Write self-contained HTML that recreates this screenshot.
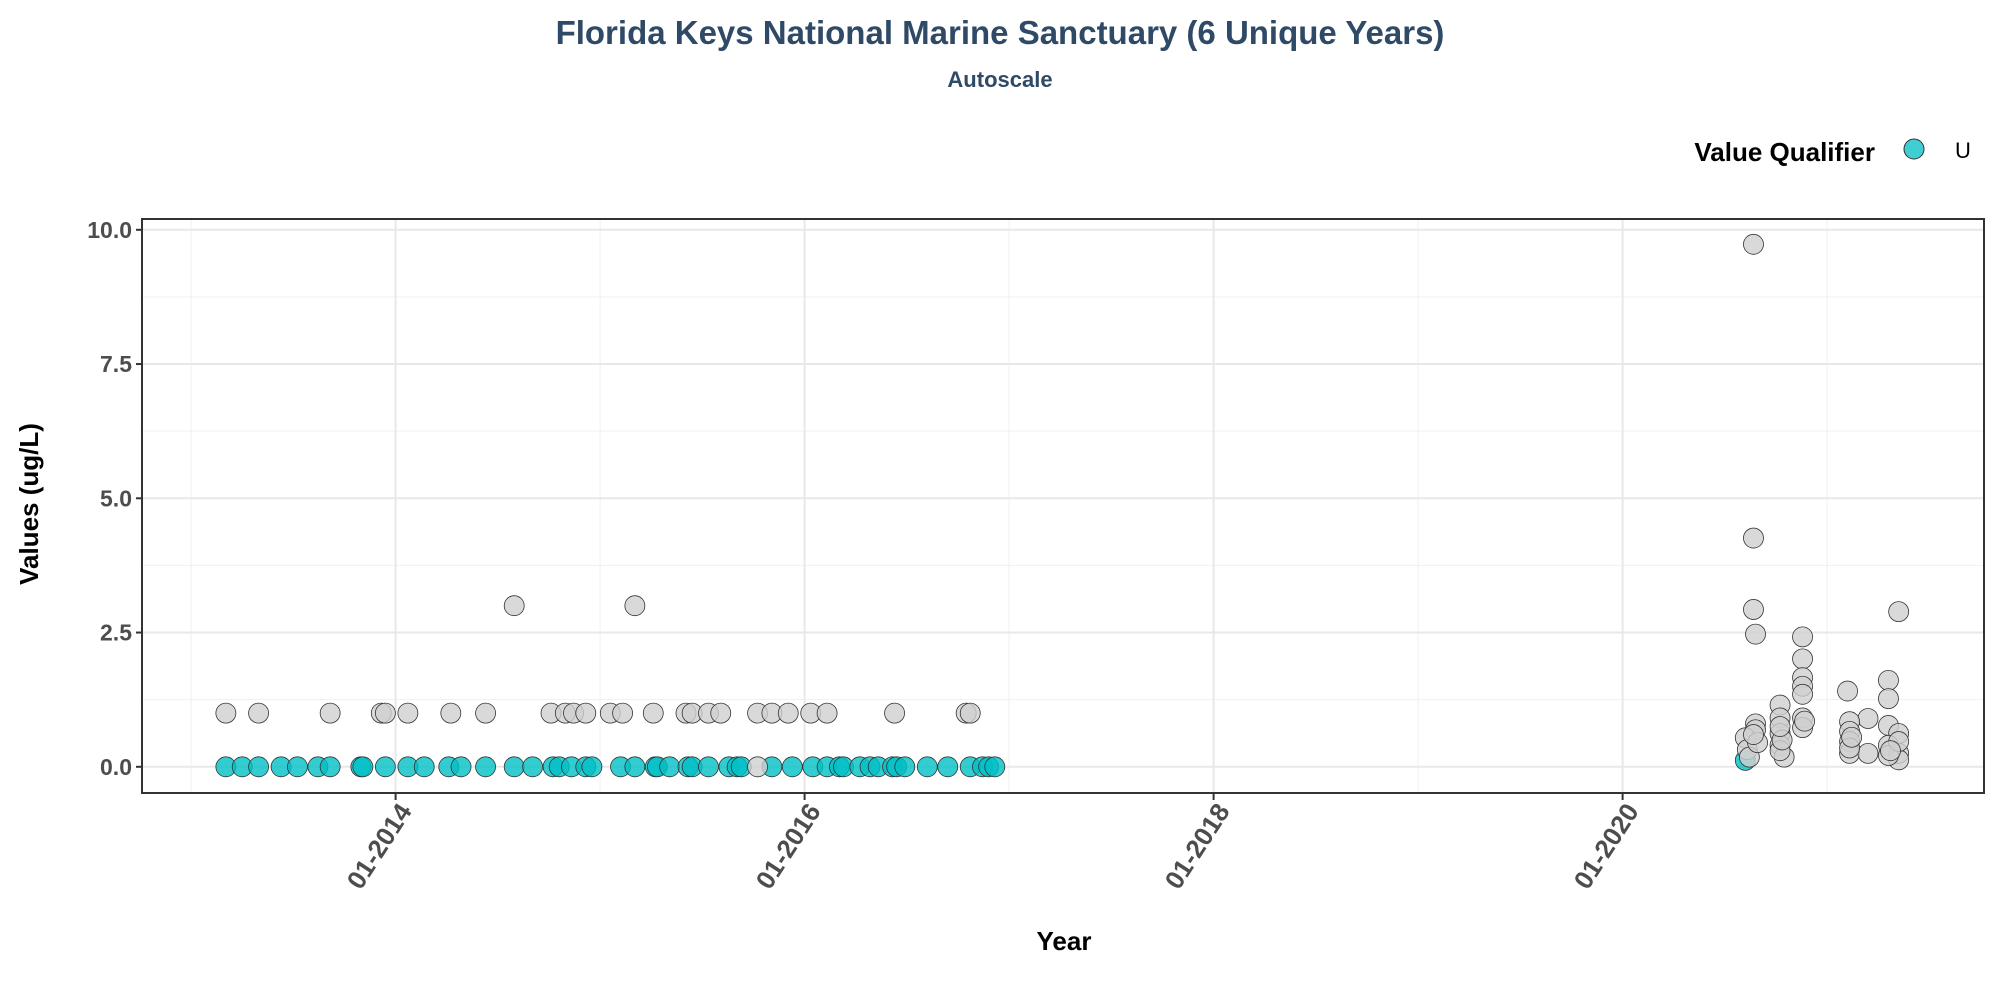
<!DOCTYPE html>
<html><head><meta charset="utf-8"><style>
body{margin:0;background:#fff;}
svg text{font-family:"Liberation Sans",sans-serif;}
</style></head><body>
<svg id="chart" width="2000" height="1000" xmlns="http://www.w3.org/2000/svg">
<text x="1000" y="44" text-anchor="middle" font-size="33" font-weight="bold" fill="#2e4a66">Florida Keys National Marine Sanctuary (6 Unique Years)</text>
<text x="1000" y="87" text-anchor="middle" font-size="22" font-weight="bold" fill="#2e4a66">Autoscale</text>
<g>
<text x="1875" y="161" text-anchor="end" font-size="26" font-weight="bold" fill="#000">Value Qualifier</text>
<circle cx="1914" cy="149" r="10" fill="#3fcfd2" stroke="#333" stroke-width="1"/>
<text x="1955" y="158" font-size="22" fill="#000">U</text>
</g>
<g id="plot"></g>
<text x="1064" y="950" text-anchor="middle" font-size="26" font-weight="bold" fill="#000">Year</text>
<text transform="translate(38,504) rotate(-90)" text-anchor="middle" font-size="26" font-weight="bold" fill="#000">Values (ug/L)</text>
</svg>
<script>
const yTicks=[0,2.5,5,7.5,10];
const yTickLabels=["0.0","2.5","5.0","7.5","10.0"];
const xTicks=[2014,2016,2018,2020];
const xTickLabels=["01-2014","01-2016","01-2018","01-2020"];
const tealYears=[2013.17,2013.25,2013.33,2013.44,2013.52,2013.62,2013.68,2013.83,2013.84,2013.95,2014.06,2014.14,2014.26,2014.32,2014.44,2014.58,2014.67,2014.77,2014.80,2014.86,2014.93,2014.96,2015.10,2015.17,2015.27,2015.28,2015.34,2015.43,2015.45,2015.53,2015.63,2015.67,2015.69,2015.84,2015.94,2016.04,2016.11,2016.17,2016.19,2016.27,2016.32,2016.36,2016.43,2016.45,2016.49,2016.60,2016.70,2016.81,2016.87,2016.90,2016.93,2020.60];
const tealValues=[0,0,0,0,0,0,0,0,0,0,0,0,0,0,0,0,0,0,0,0,0,0,0,0,0,0,0,0,0,0,0,0,0,0,0,0,0,0,0,0,0,0,0,0,0,0,0,0,0,0,0,0.12];
const grayYears=[2013.17,2013.33,2013.68,2013.93,2013.95,2014.06,2014.27,2014.44,2014.76,2014.83,2014.87,2014.93,2015.05,2015.11,2015.26,2015.42,2015.45,2015.53,2015.59,2015.77,2015.84,2015.92,2016.03,2016.11,2016.44,2016.79,2016.81,2014.58,2015.17,2015.77,
2020.64,2020.64,2020.64,2020.65,2020.88,2020.88,2020.88,2020.88,2020.88,2020.88,2020.88,2020.77,2020.77,2020.77,2020.77,2020.79,2020.65,2020.65,2020.60,2020.61,2020.62,2021.35,2021.30,2021.30,2021.10,2021.20,2021.11,2021.11,2021.11,2021.11,2021.20,2021.30,2021.35,2021.30,2021.35,2021.35,2021.30,2021.35,
2020.77,2020.78,2020.77,2020.66,2020.64,2020.89,2021.11,2021.12,2021.31];
const grayValues=[1,1,1,1,1,1,1,1,1,1,1,1,1,1,1,1,1,1,1,1,1,1,1,1,1,1,1,3,3,0,
9.73,4.26,2.93,2.47,2.42,2.01,1.66,1.50,1.35,0.91,0.73,1.15,0.91,0.62,0.40,0.18,0.80,0.69,0.54,0.32,0.18,2.89,1.61,1.27,1.41,0.90,0.84,0.66,0.47,0.25,0.25,0.77,0.62,0.40,0.25,0.13,0.21,0.47,
0.30,0.50,0.75,0.45,0.60,0.85,0.35,0.55,0.30];
const NS="http://www.w3.org/2000/svg";
const L=142,R=1984,T=219,B=793;
const xs=y=>395.6+(y-2014)*204.5;
const ys=v=>766.8-v*53.7;
const g=document.getElementById('plot');
function mk(tag,attrs,parent){const e=document.createElementNS(NS,tag);for(const k in attrs)e.setAttribute(k,attrs[k]);(parent||g).appendChild(e);return e;}
for(let v=1.25;v<10.5;v+=2.5){const e=mk('line',{x1:L,x2:R,y1:ys(v),y2:ys(v),stroke:'#f0f0f0','stroke-width':1});

}
for(let yr=2013;yr<=2021;yr+=2){const e=mk('line',{x1:xs(yr),x2:xs(yr),y1:T,y2:B,stroke:'#f0f0f0','stroke-width':1});

}
yTicks.forEach((v,i)=>{const e=mk('line',{x1:L,x2:R,y1:ys(v),y2:ys(v),stroke:'#e8e8e8','stroke-width':2});


const t=mk('line',{x1:L-6,x2:L,y1:ys(v),y2:ys(v),stroke:'#333','stroke-width':2});


const tx=mk('text',{x:L-10,y:ys(v)+8,'text-anchor':'end','font-size':23,'font-weight':'bold',fill:'#4d4d4d'});
tx.textContent=yTickLabels[i];

});
xTicks.forEach((yr,i)=>{const x=xs(yr);
const e=mk('line',{x1:x,x2:x,y1:T,y2:B,stroke:'#e8e8e8','stroke-width':2});


const t=mk('line',{x1:x,x2:x,y1:B,y2:B+7,stroke:'#333','stroke-width':2});


const tx=mk('text',{transform:`translate(${x+17},${B+18}) rotate(-57)`,'text-anchor':'end','font-size':26,'font-weight':'bold',fill:'#4d4d4d'});
tx.textContent=xTickLabels[i];

});
tealYears.forEach((yr,i)=>{const c=mk('circle',{cx:xs(yr),cy:ys(tealValues[i]),r:10,fill:'#00bfc4','fill-opacity':0.8,stroke:'#333','stroke-width':0.8});

});
grayYears.forEach((yr,i)=>{const c=mk('circle',{cx:xs(yr),cy:ys(grayValues[i]),r:10,fill:'#cfcfcf','fill-opacity':0.8,stroke:'#333','stroke-width':0.8});

});
const f=mk('rect',{x:L,y:T,width:R-L,height:B-T,fill:'none',stroke:'#333','stroke-width':2});


</script>
</body></html>
